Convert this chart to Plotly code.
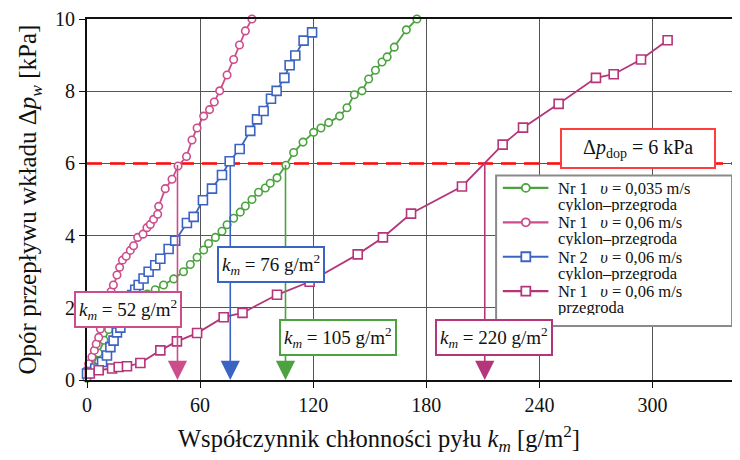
import plotly.graph_objects as go

# ---- data ----
# Nr 1, v = 0,035 m/s, cyklon-przegroda (green circles)
g_x = [0, 3, 6, 9, 11.5, 14, 17, 20, 24, 28, 32, 36.2, 40.6, 46, 51.2, 54.8, 58.4, 61.9, 64.5, 68.1,
       71.6, 74.3, 77.8, 81.3, 84, 87.5, 91, 94.6, 97.2, 100.8, 105.5, 109.6, 114.6, 120.2, 124.1,
       128.2, 134, 137.9, 141.8, 145.9, 149.4, 153, 156.5, 159.2, 163, 169.4, 175]
g_y = [0.05, 0.4, 0.75, 1.1, 1.4, 1.65, 1.85, 2.0, 2.15, 2.27, 2.38, 2.5, 2.63, 2.8, 3.0, 3.2, 3.4,
       3.6, 3.78, 3.95, 4.12, 4.3, 4.48, 4.65, 4.82, 5.0, 5.2, 5.32, 5.45, 5.6, 5.95, 6.3, 6.59,
       6.86, 6.98, 7.13, 7.31, 7.54, 7.9, 8.01, 8.34, 8.58, 8.81, 8.95, 9.22, 9.7, 10.0]

# Nr 1, v = 0,06 m/s, cyklon-przegroda (pink circles)
p_x = [0, 0.9, 2.6, 3.9, 4.9, 6.2, 7.1, 8.5, 10, 11.5, 12.8, 14.0, 15.9, 17.3, 18.8, 20.8, 23.0, 24.7,
       26.9, 29.7, 31.8, 33.6, 35.3, 37.5, 38.0, 41.5, 45.1, 48.3, 52.8, 55.7, 58.4, 61.9, 65.0,
       67.5, 70.4, 74.3, 77.8, 80.9, 84.0, 87.5]
p_y = [0.27, 0.45, 0.64, 0.82, 1.0, 1.18, 1.41, 1.65, 1.9, 2.2, 2.45, 2.63, 2.91, 3.12, 3.32, 3.43,
       3.59, 3.72, 3.95, 4.04, 4.22, 4.31, 4.45, 4.59, 4.81, 5.3, 5.56, 5.93, 6.19, 6.65, 6.98,
       7.31, 7.49, 7.70, 8.01, 8.45, 8.88, 9.28, 9.67, 10.0]

# Nr 2, v = 0,06 m/s, cyklon-przegroda (blue squares)
b_x = [0, 4.4, 8, 10.6, 12.4, 14.1, 15.9, 17.7, 19.5, 21, 22.5, 24, 25.6, 27.4, 30, 32.7, 36.2, 38.9,
       43.3, 46.8, 53, 56.6, 61.5, 66.3, 71.6, 75.7, 81, 86.6, 90.2, 93.7, 97.6, 100.6, 104.7,
       107.5, 110.5, 114.9, 119.4]
b_y = [0.18, 0.32, 0.5, 0.68, 0.91, 1.09, 1.32, 1.45, 1.7, 1.95, 2.15, 2.35, 2.5, 2.63, 2.81, 3.0,
       3.18, 3.36, 3.63, 3.86, 4.35, 4.52, 4.98, 5.3, 5.68, 6.06, 6.40, 6.90, 7.22, 7.45, 7.79,
       8.01, 8.37, 8.72, 8.99, 9.40, 9.63]

# Nr 1, v = 0,06 m/s, przegroda (magenta squares)
m_x = [1.5, 6.2, 13.3, 16.8, 21.2, 28.3, 38.9, 47.7, 58.4, 72.5, 82.5, 100.8, 118.1, 143.6, 157,
       171.9, 198.9, 220.5, 231.3, 250.2, 270, 279.4, 293.9, 308]
m_y = [0.18, 0.27, 0.32, 0.36, 0.38, 0.47, 0.82, 1.07, 1.30, 1.74, 1.86, 2.36, 2.72, 3.48, 3.95,
       4.61, 5.36, 6.52, 6.99, 7.65, 8.37, 8.47, 8.88, 9.41]

NB = "\u00a0"
legend_line1 = [
    f"Nr 1{NB*3}<i>υ</i> = 0,035 m/s",
    f"Nr 1{NB*3}<i>υ</i> = 0,06 m/s",
    f"Nr 2{NB*3}<i>υ</i> = 0,06 m/s",
    f"Nr 1{NB*3}<i>υ</i> = 0,06 m/s",
]
legend_line2 = ["cyklon–przegroda", "cyklon–przegroda", "cyklon–przegroda", "przegroda"]

dp_dop = 6  # kPa limit
km_drop = [48, 76, 105.3, 211]          # where the curves cross dp_dop
km_labels = ["52", "76", "105", "220"]   # values printed in the boxes
x_ticks = [0, 60, 120, 180, 240, 300]
y_ticks = [0, 2, 4, 6, 8, 10]

# ---- styling ----
FONT = "Liberation Serif, DejaVu Serif, Times New Roman, serif"
C_GREEN = "#4ca23f"
C_PINK = "#cc4d8a"
C_BLUE = "#3b63c2"
C_MAG = "#b5357a"
C_RED = "#ff3d3d"
colors = [C_GREEN, C_PINK, C_BLUE, C_MAG]
symbols = ["circle", "circle", "square", "square"]
sizes = [7.5, 7.5, 9, 9]
xs = [g_x, p_x, b_x, m_x]
ys = [g_y, p_y, b_y, m_y]

fig = go.Figure()

for x, y, l1, l2, c, s, sz in zip(xs, ys, legend_line1, legend_line2, colors, symbols, sizes):
    fig.add_trace(go.Scatter(
        x=x, y=y, name=f"{l1} {l2}", mode="lines+markers", cliponaxis=False, showlegend=False,
        line=dict(color=c, width=1.8),
        marker=dict(symbol=s, size=sz, color="white", line=dict(color=c, width=1.6)),
    ))

# limit line
fig.add_shape(type="line", xref="paper", x0=0, x1=1, yref="y", y0=dp_dop, y1=dp_dop,
              line=dict(color=C_RED, width=3, dash="15px,8px"), layer="between")

# vertical drop arrows
drop_colors = [C_PINK, C_BLUE, C_GREEN, C_MAG]
for xv, col in zip(km_drop, drop_colors):
    fig.add_annotation(x=xv, y=0, ax=xv, ay=dp_dop, xref="x", yref="y", axref="x", ayref="y",
                       text="", showarrow=True, arrowhead=2, arrowsize=2.4, arrowwidth=1.6,
                       arrowcolor=col)

# label boxes (positions in data units)
label_pos = [(21.9, 1.96), (97.5, 3.2), (133, 1.18), (215.7, 1.18)]
for (lx, ly), lab, col in zip(label_pos, km_labels, drop_colors):
    fig.add_annotation(x=lx, y=ly, xref="x", yref="y", showarrow=False,
                       text=f"<i>k<sub>m</sub></i> = {lab} g/m<sup>2</sup>",
                       font=dict(family=FONT, size=19, color="#111"),
                       bgcolor="white", bordercolor=col, borderwidth=2, borderpad=3)

fig.add_annotation(x=292.2, y=6.41, xref="x", yref="y", showarrow=False,
                   text=NB * 3 + f"Δ<i>p</i><sub>dop</sub> = {dp_dop} kPa" + NB * 3,
                   font=dict(family=FONT, size=20, color="#111"),
                   bgcolor="white", bordercolor=C_RED, borderwidth=2, borderpad=6)

# ---- legend box (drawn by hand to match the tight line spacing) ----
LG_X0, LG_X1, LG_Y0, LG_Y1 = 0.6265, 0.9878, 0.1499, 0.5668
fig.add_shape(type="rect", xref="paper", yref="paper", x0=LG_X0, x1=LG_X1, y0=LG_Y0, y1=LG_Y1,
              fillcolor="white", line=dict(color="#8a8a8a", width=2), layer="above")
entry_top = 0.5322      # paper y of first entry's first line
entry_step = 0.0954     # paper distance between entries
line_step = 0.0440      # paper distance between the two lines of an entry
sym_x0, sym_x1, sym_xc, text_x = 0.6368, 0.7066, 0.6720, 0.7199
for i, (l1, l2, c, s) in enumerate(zip(legend_line1, legend_line2, colors, symbols)):
    yy = entry_top - i * entry_step
    fig.add_shape(type="line", xref="paper", yref="paper", x0=sym_x0, x1=sym_x1, y0=yy, y1=yy,
                  line=dict(color=c, width=2.2), layer="above")
    r = 4 if s == "circle" else 4.5
    fig.add_shape(type="circle" if s == "circle" else "rect", xref="paper", yref="paper",
                  xsizemode="pixel", ysizemode="pixel", xanchor=sym_xc, yanchor=yy,
                  x0=-r, x1=r, y0=-r, y1=r, fillcolor="white",
                  line=dict(color=c, width=1.8), layer="above")
    for k, txt in enumerate((l1, l2)):
        fig.add_annotation(x=text_x, y=yy - k * line_step, xref="paper", yref="paper",
                           xanchor="left", yanchor="middle", showarrow=False, text=txt,
                           height=16, borderpad=0, valign="middle",
                           font=dict(family=FONT, size=16.5, color="#111"))

# x axis title, placed left of centre as in the reference
fig.add_annotation(x=0.4474, y=-0.163, xref="paper", yref="paper", showarrow=False,
                   xanchor="center", yanchor="middle",
                   text="Współczynnik chłonności pyłu <i>k<sub>m</sub></i> [g/m<sup>2</sup>]",
                   font=dict(family=FONT, size=24.5, color="#111"))

# page body adds an 8px offset, so the figure is 8px smaller than the window
fig.update_layout(
    width=732, height=452,
    margin=dict(l=79, r=0, t=5, b=80),
    paper_bgcolor="white", plot_bgcolor="white",
    font=dict(family=FONT, size=19, color="#111"),
    showlegend=False,
)

fig.update_xaxes(
    range=[0, 346.4], tickvals=x_ticks, ticktext=[str(v) for v in x_ticks],
    showgrid=True, gridcolor="#555", gridwidth=1.3,
    showline=True, linecolor="#111", linewidth=2, mirror=True,
    ticks="outside", ticklen=6, tickcolor="#111", zeroline=False,
    tickfont=dict(family=FONT, size=20),
)
fig.update_yaxes(
    range=[0, 10], tickvals=y_ticks, ticktext=[str(v) for v in y_ticks],
    showgrid=True, gridcolor="#555", gridwidth=1.3,
    showline=True, linecolor="#111", linewidth=2,
    ticks="outside", ticklen=6, tickcolor="#111", zeroline=False,
    ticklabeloverflow="allow",
    tickfont=dict(family=FONT, size=20),
    title=dict(text="Opór przepływu wkładu Δ<i>p<sub>w</sub></i> [kPa]",
               font=dict(family=FONT, size=25), standoff=11),
)

fig.write_html("out.html")
